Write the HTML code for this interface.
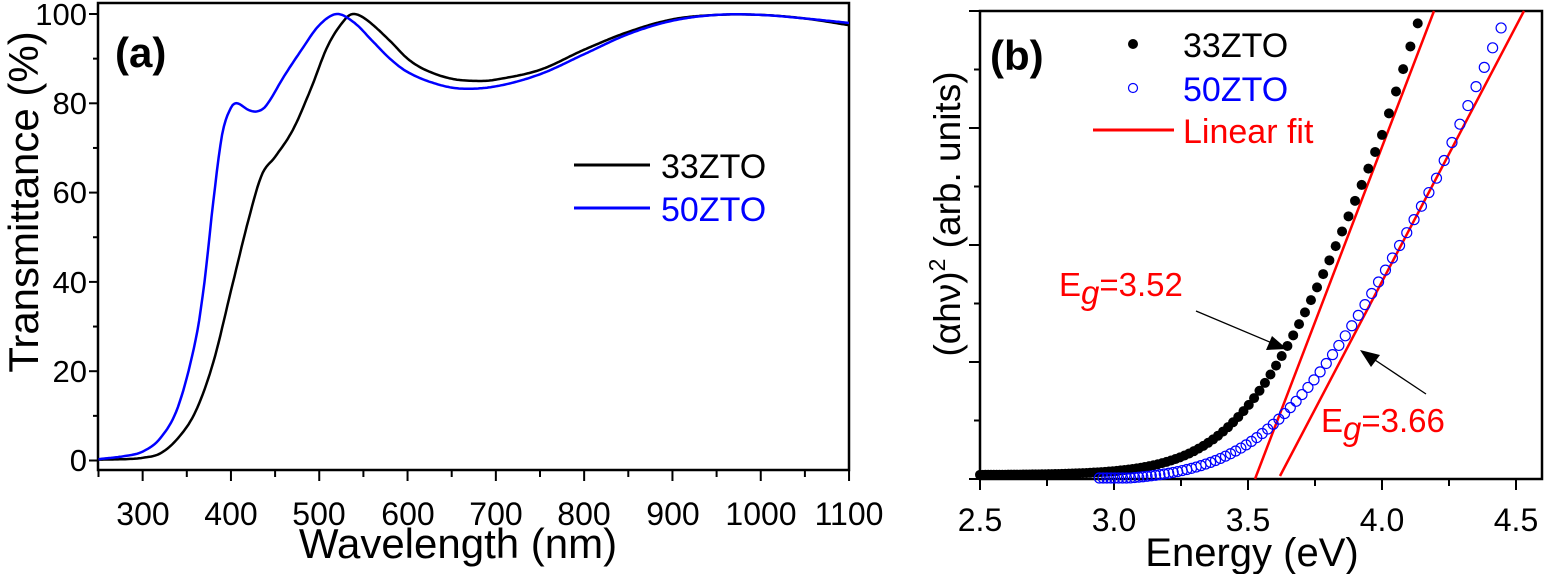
<!DOCTYPE html>
<html><head><meta charset="utf-8"><style>
html,body{margin:0;padding:0;background:#fff;}
svg{display:block;font-family:"Liberation Sans",Arial,sans-serif;}
</style></head><body>
<svg id="s" width="1544" height="574" viewBox="0 0 1544 574" xmlns="http://www.w3.org/2000/svg">
<g id="a">
<rect x="98" y="3" width="751" height="467" fill="none" stroke="#000" stroke-width="2.5"/>
<text x="115" y="67" font-size="42" font-weight="bold">(a)</text>
<g font-size="31" text-anchor="end">
<text x="87" y="471">0</text><text x="87" y="382">20</text><text x="87" y="293">40</text>
<text x="87" y="203">60</text><text x="87" y="114">80</text><text x="87" y="25">100</text>
</g>
<g font-size="32" text-anchor="middle">
<text x="143" y="525">300</text><text x="231" y="525">400</text><text x="319" y="525">500</text>
<text x="408" y="525">600</text><text x="496" y="525">700</text><text x="584" y="525">800</text>
<text x="673" y="525">900</text><text x="761" y="525">1000</text><text x="849" y="525">1100</text>
</g>
<text x="458" y="558" font-size="42" text-anchor="middle">Wavelength (nm)</text>
<text transform="translate(38,202) rotate(-90)" font-size="42" text-anchor="middle">Transmittance (%)</text>
<line x1="574" y1="165" x2="650" y2="165" stroke="#000" stroke-width="3"/>
<text x="661" y="178" font-size="34">33ZTO</text>
<line x1="574" y1="208" x2="650" y2="208" stroke="#00f" stroke-width="3"/>
<text x="661" y="221" font-size="34" fill="#00f">50ZTO</text>
</g>
<g id="b">
<rect x="980" y="11" width="562" height="468" fill="none" stroke="#000" stroke-width="2.5"/>
<text x="990" y="70" font-size="42" font-weight="bold">(b)</text>
<g font-size="32" text-anchor="middle">
<text x="980" y="531">2.5</text><text x="1114" y="531">3.0</text><text x="1248" y="531">3.5</text>
<text x="1382" y="531">4.0</text><text x="1516" y="531">4.5</text>
</g>
<text x="1252" y="566" font-size="40" text-anchor="middle">Energy (eV)</text>
<text transform="translate(960,214) rotate(-90)" font-size="37" text-anchor="middle">(αhν)<tspan dy="-15" font-size="23">2</tspan><tspan dy="15"> (arb. units)</tspan></text>
<circle cx="1133" cy="44" r="5" fill="#000"/>
<text x="1183" y="57" font-size="34">33ZTO</text>
<circle cx="1133" cy="88" r="4.5" fill="none" stroke="#00f" stroke-width="1.2"/>
<text x="1183" y="101" font-size="34" fill="#00f">50ZTO</text>
<line x1="1093" y1="130" x2="1174" y2="130" stroke="#f00" stroke-width="3"/>
<text x="1183" y="143" font-size="34" fill="#f00">Linear fit</text>
<text x="1059" y="296" font-size="33" fill="#f00">E<tspan font-style="italic" dy="8">g</tspan><tspan dy="-8">=3.52</tspan></text>
<text x="1321" y="432" font-size="33" fill="#f00">E<tspan font-style="italic" dy="8">g</tspan><tspan dy="-8">=3.66</tspan></text>
<line x1="1196" y1="311" x2="1272" y2="343" stroke="#000" stroke-width="1.3"/>
<polygon points="1287,349 1266,350 1272,336" fill="#000"/>
<line x1="1426" y1="394" x2="1372" y2="358" stroke="#000" stroke-width="1.3"/>
<polygon points="1360,350 1380,355 1371,367" fill="#000"/>
</g>
<g id="dyn"></g>
</svg>
<script>
var NS="http://www.w3.org/2000/svg",g=document.getElementById("dyn");
function el(n,a){var e=document.createElementNS(NS,n);for(var k in a)e.setAttribute(k,a[k]);g.appendChild(e);return e;}
function ax(v){return 98.5+(v-250)*0.883;} function ay(v){return 460.5-v*4.465;}
for(var v=250;v<=1100;v+=50){var X=ax(v);el("line",{x1:X,y1:470,x2:X,y2:v%100==0?481:477,stroke:"#000","stroke-width":2});}
for(var v=0;v<=100;v+=10){var Y=ay(v);el("line",{x1:98,y1:Y,x2:v%20==0?89:93,y2:Y,stroke:"#000","stroke-width":2});}
function interp(d,x){for(var i=0;i<d.length-1;i++){if(x<=d[i+1][0]){var p0=d[Math.max(i-1,0)],p1=d[i],p2=d[i+1],p3=d[Math.min(i+2,d.length-1)];var t=(x-p1[0])/(p2[0]-p1[0]);
var m1=(p2[1]-p0[1])/(p2[0]-p0[0])*(p2[0]-p1[0]),m2=(p3[1]-p1[1])/(p3[0]-p1[0])*(p2[0]-p1[0]);
var t2=t*t,t3=t2*t;return (2*t3-3*t2+1)*p1[1]+(t3-2*t2+t)*m1+(-2*t3+3*t2)*p2[1]+(t3-t2)*m2;}}return d[d.length-1][1];}
var blk=[[250,0.2],[280,0.3],[300,0.6],[320,1.6],[340,5],[360,11],[380,22],[400,38],[420,54],[435,64],[450,68],[470,74],[490,83],[510,93],[530,99],[540,100],[555,98.5],[580,94],[600,90],[620,87.5],[650,85.5],[680,85],[700,85.3],[750,87.5],[800,92],[850,96],[900,98.8],[950,99.8],[1000,99.8],[1050,99],[1100,97.5]];
var blu=[[250,0.3],[280,1],[300,2],[320,5],[340,12],[360,27],[370,40],[380,58],[390,73],[400,79],[407,80],[420,78.5],[430,78.2],[440,79.5],[460,86],[480,92],[500,97.5],[520,100],[540,98],[560,94],[580,90],[600,87],[630,84.5],[660,83.3],[700,83.8],[750,86.5],[800,91],[850,95.5],[900,98.5],[950,99.8],[1000,99.8],[1050,99],[1100,98]];
function path(d,c){var p="";for(var x=250;x<=1100;x+=2){p+=(p?"L":"M")+ax(x).toFixed(1)+","+ay(interp(d,x)).toFixed(1);}el("path",{d:p,fill:"none",stroke:c,"stroke-width":2.5});}
path(blk,"#000");path(blu,"#00f");
function bx(e){return 980+(e-2.5)*268;}
for(var e=2.5;e<=4.51;e+=0.25){var X=bx(e);var maj=Math.abs(e*2-Math.round(e*2))<0.01;el("line",{x1:X,y1:479,x2:X,y2:maj?490:486,stroke:"#000","stroke-width":2});}
for(var i=0;i<=8;i++){var Y=479-i*58.5;el("line",{x1:980,y1:Y,x2:i%2==0?969:974,y2:Y,stroke:"#000","stroke-width":2});}
el("line",{x1:1255,y1:479,x2:1434,y2:11,stroke:"#f00","stroke-width":2.5});
el("line",{x1:1280,y1:476,x2:1524,y2:11,stroke:"#f00","stroke-width":2.5});
function sp(x){return x>30?x:Math.log(1+Math.exp(x));}
for(var l=496;l>=300;l-=2){var E=1240/l;var h=698*0.157*sp((E-3.52)/0.157)+4;if(E>4.0)h+=(E-4.0)*160;el("circle",{cx:bx(E),cy:479-h,r:5,fill:"#000"});}
for(var l=425;l>=278;l-=2){var E=1240/l;var h=514*0.18*sp((E-3.62)/0.18)-3;if(E>4.2)h+=(E-4.2)*120;if(h<-1)continue;el("circle",{cx:bx(E),cy:Math.min(479-h,478),r:5,fill:"none",stroke:"#00f","stroke-width":1.2});}
</script>
</body></html>
